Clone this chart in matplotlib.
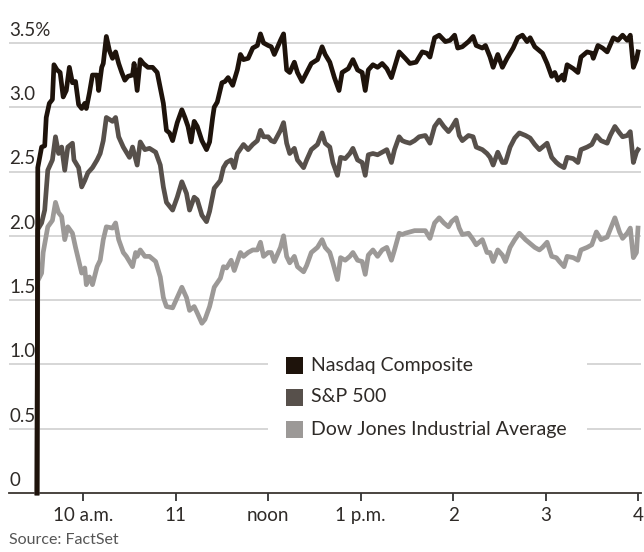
import matplotlib.pyplot as plt
from matplotlib.patches import Rectangle

# minutes after the 9:30 open, percent change
nasdaq_t = [0, 0.5, 3, 5, 6, 8, 10, 11, 13, 15, 17, 19, 21, 23, 25, 27, 29, 31, 32, 34,
            36, 39, 40, 42, 43, 45, 47, 49, 51, 53, 55, 57, 59, 62, 63, 65, 67, 69, 72, 75,
            78, 80, 82, 84, 86, 88, 91, 94, 96, 98, 100, 102, 104, 107, 110, 112, 114, 115, 117, 120,
            122, 124, 127, 130, 132, 134, 137, 140, 143, 145, 147, 150, 152, 154, 158, 160, 162, 164, 167, 169,
            172, 175, 178, 182, 185, 187, 190, 193, 196, 198, 202, 205, 208, 211, 213, 215, 218, 221, 224, 227,
            230, 232, 235, 239, 242, 246, 250, 253, 255, 258, 261, 265, 268, 271, 273, 276, 280, 283, 285, 289,
            291, 294, 296, 299, 302, 305, 309, 312, 315, 318, 320, 323, 326, 328, 331, 334, 336, 338, 341, 342,
            344, 348, 351, 353, 357, 360, 361, 364, 367, 370, 374, 377, 380, 383, 385, 387, 389, 390]
nasdaq_v = [0, 2.53, 2.69, 2.70, 2.92, 3.03, 3.06, 3.33, 3.29, 3.27, 3.08, 3.13, 3.31, 3.19, 3.20, 3.02, 2.99, 3.03, 2.99, 3.11,
            3.25, 3.25, 3.13, 3.31, 3.34, 3.55, 3.44, 3.38, 3.43, 3.34, 3.27, 3.21, 3.24, 3.25, 3.34, 3.13, 3.37, 3.34, 3.31, 3.31,
            3.27, 3.15, 3.03, 2.82, 2.80, 2.74, 2.88, 2.98, 2.92, 2.85, 2.73, 2.89, 2.85, 2.74, 2.67, 2.73, 2.92, 3.00, 3.04, 3.19,
            3.20, 3.23, 3.17, 3.29, 3.41, 3.37, 3.38, 3.46, 3.48, 3.57, 3.50, 3.48, 3.47, 3.41, 3.52, 3.57, 3.29, 3.27, 3.35, 3.27,
            3.20, 3.27, 3.34, 3.37, 3.47, 3.41, 3.35, 3.23, 3.13, 3.27, 3.30, 3.37, 3.29, 3.27, 3.13, 3.29, 3.33, 3.31, 3.34, 3.30,
            3.23, 3.31, 3.43, 3.38, 3.34, 3.35, 3.43, 3.42, 3.39, 3.54, 3.56, 3.51, 3.52, 3.56, 3.46, 3.47, 3.51, 3.55, 3.48, 3.46,
            3.48, 3.39, 3.31, 3.41, 3.31, 3.38, 3.46, 3.54, 3.56, 3.51, 3.54, 3.47, 3.44, 3.42, 3.34, 3.24, 3.27, 3.21, 3.25, 3.21,
            3.33, 3.30, 3.27, 3.39, 3.43, 3.42, 3.38, 3.48, 3.46, 3.43, 3.54, 3.52, 3.56, 3.52, 3.56, 3.31, 3.37, 3.43]

sp_t = [0, 0.5, 3, 5, 7, 10, 12, 14, 16, 18, 20, 23, 24, 27, 29, 31, 33, 36, 39, 41,
        43, 45, 49, 51, 53, 56, 58, 60, 62, 65, 67, 70, 73, 77, 80, 82, 84, 88, 91, 94,
        97, 99, 102, 104, 107, 110, 112, 115, 119, 121, 123, 126, 128, 130, 134, 137, 140, 143, 145, 147,
        150, 152, 154, 158, 160, 162, 164, 167, 169, 173, 175, 178, 182, 185, 187, 190, 192, 195, 197, 200,
        203, 205, 208, 211, 213, 215, 218, 221, 224, 227, 230, 232, 235, 237, 239, 242, 245, 248, 252, 255,
        258, 261, 264, 267, 269, 272, 274, 276, 280, 283, 285, 289, 292, 294, 296, 299, 302, 304, 307, 310,
        313, 317, 320, 323, 326, 328, 331, 334, 337, 339, 342, 344, 348, 351, 353, 357, 360, 363, 366, 370,
        372, 375, 378, 380, 383, 385, 387, 389, 390]
sp_v = [0, 2.05, 2.10, 2.20, 2.51, 2.59, 2.77, 2.64, 2.69, 2.51, 2.69, 2.72, 2.59, 2.53, 2.38, 2.43, 2.49, 2.53, 2.59, 2.64,
        2.74, 2.92, 2.89, 2.92, 2.77, 2.69, 2.65, 2.61, 2.69, 2.55, 2.73, 2.67, 2.68, 2.65, 2.55, 2.38, 2.26, 2.20, 2.30, 2.42,
        2.33, 2.20, 2.30, 2.28, 2.16, 2.11, 2.19, 2.37, 2.43, 2.53, 2.57, 2.59, 2.53, 2.64, 2.71, 2.67, 2.71, 2.74, 2.82, 2.77,
        2.77, 2.74, 2.73, 2.82, 2.88, 2.72, 2.64, 2.68, 2.59, 2.53, 2.59, 2.67, 2.71, 2.80, 2.72, 2.69, 2.57, 2.47, 2.61, 2.60,
        2.64, 2.68, 2.59, 2.57, 2.47, 2.63, 2.64, 2.63, 2.65, 2.67, 2.57, 2.67, 2.77, 2.74, 2.73, 2.72, 2.74, 2.77, 2.78, 2.72,
        2.85, 2.90, 2.85, 2.81, 2.84, 2.90, 2.78, 2.74, 2.78, 2.77, 2.69, 2.67, 2.64, 2.61, 2.55, 2.65, 2.57, 2.57, 2.69, 2.76,
        2.80, 2.78, 2.76, 2.71, 2.67, 2.69, 2.72, 2.61, 2.57, 2.55, 2.53, 2.61, 2.60, 2.57, 2.67, 2.69, 2.71, 2.78, 2.74, 2.72,
        2.78, 2.85, 2.80, 2.77, 2.78, 2.81, 2.57, 2.65, 2.67]

dow_t = [0, 0.5, 3, 4, 7, 10, 12, 14, 16, 18, 20, 23, 25, 27, 29, 31, 32, 34, 36, 39,
         41, 43, 45, 49, 51, 53, 56, 58, 62, 64, 65, 67, 70, 73, 77, 80, 82, 84, 88, 91,
         94, 97, 99, 102, 104, 107, 109, 112, 115, 119, 121, 123, 126, 128, 132, 134, 137, 140, 143, 145,
         147, 150, 152, 154, 158, 160, 162, 164, 167, 169, 173, 175, 178, 182, 185, 187, 190, 192, 195, 197,
         200, 203, 205, 208, 211, 213, 215, 218, 221, 224, 227, 230, 232, 235, 237, 239, 242, 245, 248, 252,
         255, 258, 261, 264, 267, 269, 272, 274, 276, 280, 283, 285, 289, 292, 294, 296, 299, 302, 304, 307,
         310, 313, 317, 320, 323, 326, 328, 331, 334, 337, 339, 342, 344, 348, 351, 353, 357, 360, 363, 366,
         370, 372, 375, 378, 380, 383, 385, 387, 389, 390]
dow_v = [0, 1.65, 1.71, 1.87, 2.07, 2.12, 2.26, 2.18, 2.15, 1.97, 2.07, 2.02, 1.91, 1.81, 1.71, 1.75, 1.62, 1.68, 1.62, 1.76,
         1.81, 1.97, 2.07, 2.06, 2.10, 1.97, 1.87, 1.84, 1.76, 1.87, 1.84, 1.89, 1.84, 1.84, 1.80, 1.68, 1.52, 1.45, 1.44, 1.52,
         1.60, 1.52, 1.42, 1.45, 1.40, 1.32, 1.35, 1.45, 1.60, 1.67, 1.76, 1.75, 1.81, 1.73, 1.87, 1.84, 1.87, 1.89, 1.89, 1.95,
         1.84, 1.87, 1.87, 1.80, 1.91, 2.00, 1.84, 1.79, 1.84, 1.76, 1.72, 1.77, 1.87, 1.91, 1.97, 1.91, 1.87, 1.79, 1.66, 1.83,
         1.81, 1.84, 1.87, 1.81, 1.80, 1.70, 1.85, 1.89, 1.84, 1.89, 1.91, 1.81, 1.89, 2.02, 2.01, 2.02, 2.03, 2.04, 2.04, 2.04,
         1.98, 2.10, 2.14, 2.10, 2.07, 2.11, 2.14, 2.06, 2.01, 2.02, 1.97, 1.93, 1.97, 1.87, 1.87, 1.80, 1.89, 1.85, 1.80, 1.91,
         1.97, 2.02, 1.97, 1.94, 1.91, 1.89, 1.91, 1.95, 1.84, 1.83, 1.80, 1.76, 1.84, 1.83, 1.81, 1.89, 1.91, 1.93, 2.03, 1.97,
         1.99, 2.05, 2.14, 2.03, 1.98, 2.02, 2.06, 1.83, 1.87, 2.06]

names = ['Nasdaq Composite', 'S&P 500', 'Dow Jones Industrial Average']
colors = ['#1e130b', '#57504b', '#9c9997']

y_ticks = [0, 0.5, 1.0, 1.5, 2.0, 2.5, 3.0, 3.5]
y_labels = ['0', '0.5', '1.0', '1.5', '2.0', '2.5', '3.0', '3.5%']
x_ticks = [30, 90, 150, 210, 270, 330, 390]
x_labels = ['10 a.m.', '11', 'noon', '1 p.m.', '2', '3', '4']

plt.rcParams['font.family'] = ['Lato', 'DejaVu Sans']
text_color = '#2e2a27'

W, H = 644, 552
fig = plt.figure(figsize=(W / 100, H / 100), dpi=100)
ax = fig.add_axes([9 / W, (H - 493) / H, 632 / W, 473 / H])
ppm = 601 / 390       # pixels per minute
ppu = 128.6           # pixels per percent
ax.set_xlim(-28 / ppm, 390 + 3 / ppm)
ax.set_ylim(0, 473 / ppu)
for s in ax.spines.values():
    s.set_visible(False)
ax.set_yticks([])
ax.set_xticks(x_ticks)
ax.set_xticklabels(x_labels, fontsize=13.5, color=text_color)
ax.tick_params(axis='x', length=6, width=1.3, color='#333333', pad=4)

def px2x(px):
    return (px - 37) / ppm

def py2y(py):
    return (493 - py) / ppu

# gridlines and labels
for v, lab in zip(y_ticks, y_labels):
    if v == 0:
        ax.axhline(v, color='#3a3530', lw=1.3, zorder=1, clip_on=False)
    else:
        ax.axhline(v, color='#d3d3d3', lw=1.3, zorder=1)
    ax.annotate(lab, (0, v), xycoords=('axes fraction', 'data'),
                xytext=(0, 3), textcoords='offset points',
                ha='left', va='bottom', fontsize=13.5, color=text_color)

# series (Nasdaq on top)
series = [(nasdaq_t, nasdaq_v), (sp_t, sp_v), (dow_t, dow_v)]
for (t, v), c, z in zip(series[::-1], colors[::-1], [3, 4, 5]):
    ax.plot(t, v, color=c, lw=3.4, zorder=z, solid_joinstyle='round', clip_on=False)

# legend box over gridlines
ax.add_patch(Rectangle((px2x(268), py2y(448)), (587 - 268) / ppm, (448 - 343) / ppu,
                       facecolor='white', edgecolor='none', zorder=2))
for i, (name, c) in enumerate(zip(names, colors)):
    yc = 365 + 32 * i
    ax.add_patch(Rectangle((px2x(286), py2y(yc + 8.5)), 17 / ppm, 17 / ppu,
                           facecolor=c, edgecolor='none', zorder=6))
    ax.text(px2x(311), py2y(yc), name, ha='left', va='center',
            fontsize=14, color=text_color, zorder=6)

fig.text(9 / W, 1 - 533 / H, 'Source: FactSet', ha='left', va='top',
         fontsize=11.5, color='#555555')

fig.savefig('out.png', dpi=100)
